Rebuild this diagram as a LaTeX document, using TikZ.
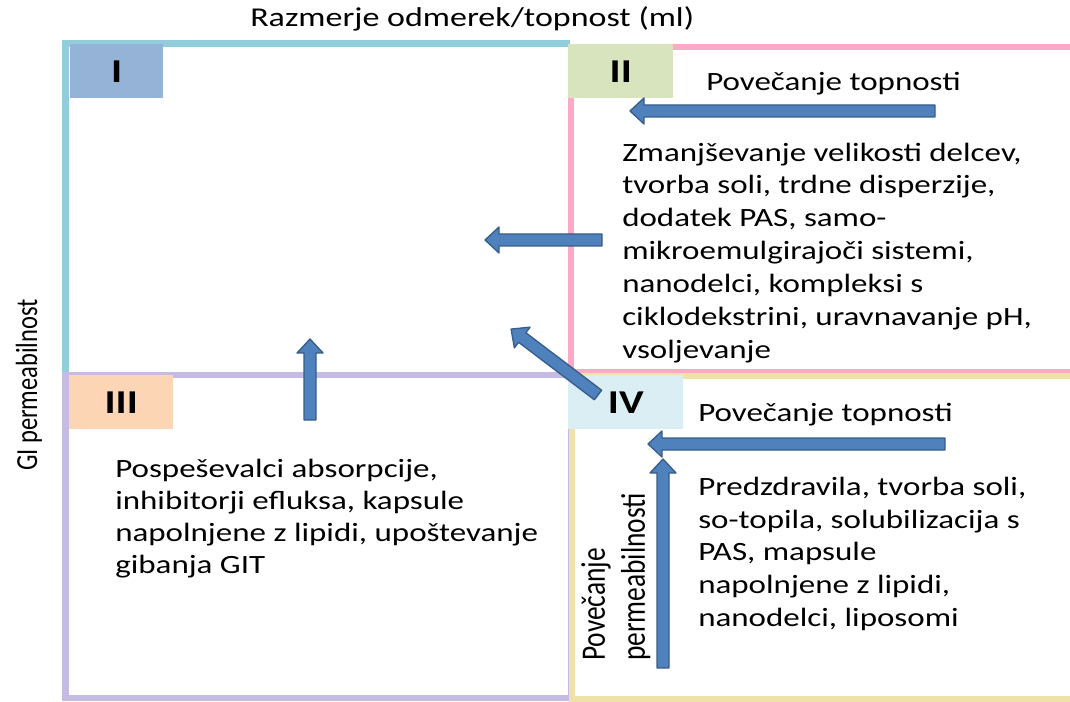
\documentclass[tikz,border=0pt]{standalone}
\usepackage{fontspec}
\setmainfont{Carlito}[FakeStretch=1.25]
\newfontfamily\rotfont{Carlito}[FakeStretch=0.8]
\usepackage{tikz}
\usetikzlibrary{calc}
\definecolor{boxcyan}{HTML}{92CDDC}
\definecolor{boxpink}{HTML}{FCA9C8}
\definecolor{boxlilac}{HTML}{C6BCE3}
\definecolor{boxsand}{HTML}{EEE2A8}
\definecolor{tagI}{HTML}{95B3D7}
\definecolor{tagII}{HTML}{D7E4BD}
\definecolor{tagIII}{HTML}{FCD5B4}
\definecolor{tagIV}{HTML}{DAEEF3}
\definecolor{arrowfill}{HTML}{4F81BD}
\definecolor{arrowline}{HTML}{385D8A}
\tikzset{
  quad/.style={line width=4.8pt},
  tag/.style={anchor=north west, inner sep=0pt, minimum height=40.5pt, font=\fontsize{25}{30}\selectfont\bfseries},
  body/.style={anchor=base west, inner sep=0pt, align=left, font=\fontsize{19.8}{24.6}\selectfont},
  blockarrow/.style={fill=arrowfill, draw=arrowline, line width=1pt, line join=round}
}
% block arrow from tail #1 to tip #2
\newcommand{\blockarrow}[2]{%
  \filldraw[blockarrow] let \p1=($(#2)-(#1)$), \n1={atan2(\y1,\x1)}, \n2={veclen(\x1,\y1)} in
    [shift={(#1)}, rotate=\n1] (0pt,-4.5pt) -- ({\n2*1-10.5pt},-4.5pt) -- ({\n2*1-10.5pt},-9.75pt)
    -- ({\n2*1},0pt) -- ({\n2*1-10.5pt},9.75pt) -- ({\n2*1-10.5pt},4.5pt) -- (0pt,4.5pt) -- cycle;}

\begin{document}
\begin{tikzpicture}[x=0.75pt,y=-0.75pt]
                \useasboundingbox (0,0) rectangle (1070,702);

                % quadrant frames
                \draw[quad, boxcyan] (570,43.5) -- (65.5,43.5) -- (65.5,375);
                \draw[quad, boxpink] (1070,47) -- (571,47) -- (571,372) -- (1070,372);
                \draw[quad, boxlilac] (65.5,375) rectangle (571,698);
                \draw[quad, boxsand] (1070,376) -- (572,376) -- (572,699) -- (1070,699);

                % quadrant tags
                \node[tag, fill=tagI, minimum width=69.75pt] (tagI) at (70,44) {I};
                \node[tag, fill=tagII, minimum width=78.75pt] (tagII) at (568,44) {II};
                \node[tag, fill=tagIII, minimum width=78pt] (tagIII) at (69,375) {III};
                \node[tag, fill=tagIV, minimum width=86.25pt] (tagIV) at (568,375) {IV};

                % axis titles
                \node[body, font=\fontsize{20.4}{24.6}\selectfont] (title) at (250,27) {Razmerje odmerek/topnost (ml)};
                \node[rotate=90, inner sep=0pt, font=\rotfont\fontsize{23}{28}\selectfont] (yaxis) at (29,385) {GI permeabilnost};

                % texts (base = last line)
                \node[body] (solII) at (706,91) {Povečanje topnosti};
                \node[body] (listII) at (622,358) {Zmanjševanje velikosti delcev,\\tvorba soli, trdne disperzije,\\dodatek PAS, samo-\\mikroemulgirajoči sistemi,\\nanodelci, kompleksi s\\ciklodekstrini, uravnavanje pH,\\vsoljevanje};
                \node[body, font=\fontsize{19.8}{24}\selectfont] (listIII) at (115,573) {Pospeševalci absorpcije,\\inhibitorji efluksa, kapsule\\napolnjene z lipidi, upoštevanje\\gibanja GIT};
                \node[body] (solIV) at (698,421) {Povečanje topnosti};
                \node[body, font=\fontsize{19.8}{24.4}\selectfont] (listIV) at (698,626) {Predzdravila, tvorba soli,\\so-topila, solubilizacija s\\PAS, mapsule\\napolnjene z lipidi,\\nanodelci, liposomi};
                \node[rotate=90, anchor=north west, align=left, inner sep=0pt, font=\rotfont\fontsize{25.7}{30}\selectfont] (permIV) at (581,661) {Povečanje\\permeabilnosti};

                % arrow ends
                \coordinate (IIs) at (935,111);   \coordinate (IIe) at (630,111);
                \coordinate (IIls) at (602,240);  \coordinate (IIle) at (485,240);
                \coordinate (IVds) at (598,395);  \coordinate (IVde) at (511,329);
                \coordinate (IIIs) at (310,420);  \coordinate (IIIe) at (310,339);
                \coordinate (IVs) at (945,444);   \coordinate (IVe) at (648,444);
                \coordinate (IVus) at (663,668);  \coordinate (IVue) at (663,459);

                % arrows
                \blockarrow{IIs}{IIe}
                \blockarrow{IIls}{IIle}
                \blockarrow{IVds}{IVde}
                \blockarrow{IIIs}{IIIe}
                \blockarrow{IVs}{IVe}
                \blockarrow{IVus}{IVue}
\end{tikzpicture}
\end{document}
